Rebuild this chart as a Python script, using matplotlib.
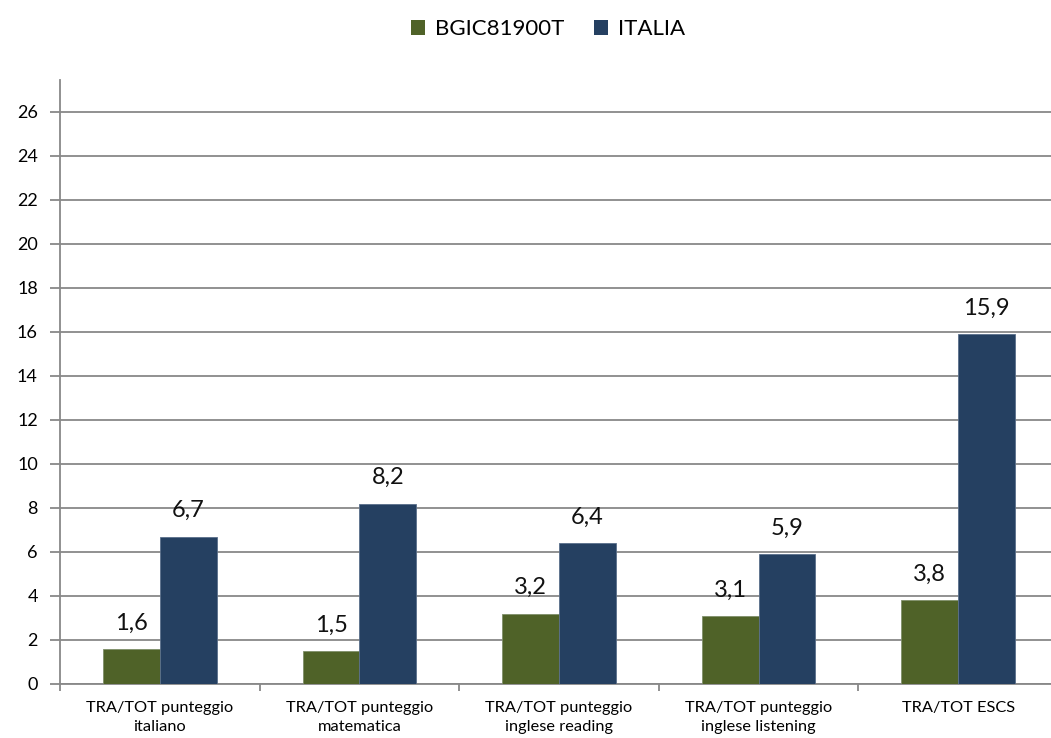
import matplotlib
matplotlib.use("Agg")
import matplotlib.pyplot as plt
import numpy as np
from matplotlib.patches import Patch

categories = ["TRA/TOT punteggio\nitaliano", "TRA/TOT punteggio\nmatematica",
              "TRA/TOT punteggio\ninglese reading", "TRA/TOT punteggio\ninglese listening",
              "TRA/TOT ESCS"]
series_names = ["BGIC81900T", "ITALIA"]
school = [1.6, 1.5, 3.2, 3.1, 3.8]
italia = [6.7, 8.2, 6.4, 5.9, 15.9]
yticks = list(range(0, 27, 2))

colors = ["#4F6228", "#254061"]
font = ["Lato", "DejaVu Sans"]
plt.rcParams['font.family'] = font

W, H = 1051, 738
fig = plt.figure(figsize=(W / 100, H / 100), dpi=100)
ax = fig.add_axes([60 / W, (H - 684) / H, 998 / W, (684 - 80) / H])

x = np.arange(len(categories))
bw = 0.285
b1 = ax.bar(x - bw / 2, school, bw, color=colors[0], edgecolor="#7f8f6a", linewidth=0.6, zorder=3)
b2 = ax.bar(x + bw / 2, italia, bw, color=colors[1], edgecolor="#5a6f8a", linewidth=0.6, zorder=3)

for bars, vals in ((b1, school), (b2, italia)):
    for r, v in zip(bars, vals):
        ax.annotate(f"{v:.1f}".replace(".", ","), (r.get_x() + r.get_width() / 2, v),
                    xytext=(0, 11), textcoords="offset points", ha="center", va="bottom",
                    fontsize=17, color="#111111")

ax.set_xlim(-0.5, len(categories) - 0.5)
ax.set_ylim(0, 27.45)
ax.set_yticks(yticks)
ax.set_yticklabels([str(t) for t in yticks], fontsize=13)
ax.yaxis.grid(True, color="#888888", linewidth=1.3, zorder=0)
ax.set_axisbelow(True)

ax.set_xticks(x)
ax.set_xticklabels(categories, fontsize=11.8, linespacing=1.45)
ax.tick_params(axis="x", length=0, pad=12)
ax.set_xticks(np.arange(-0.5, len(categories) + 0.5, 1), minor=True)
ax.tick_params(axis="x", which="minor", length=5, width=1.3, color="#888888")
ax.tick_params(axis="y", length=7, width=1.3, color="#888888", pad=9)

for s in ("top", "right"):
    ax.spines[s].set_visible(False)
for s in ("left", "bottom"):
    ax.spines[s].set_color("#888888")
    ax.spines[s].set_linewidth(1.3)

handles = [Patch(facecolor=c, label=n) for c, n in zip(colors, series_names)]
fig.legend(handles=handles, loc="center", bbox_to_anchor=(548 / W, 1 - 29 / H), ncol=2,
           frameon=False, fontsize=16, handlelength=0.65, handleheight=0.65,
           handletextpad=0.45, columnspacing=1.3)

fig.savefig("out.png", dpi=100)
